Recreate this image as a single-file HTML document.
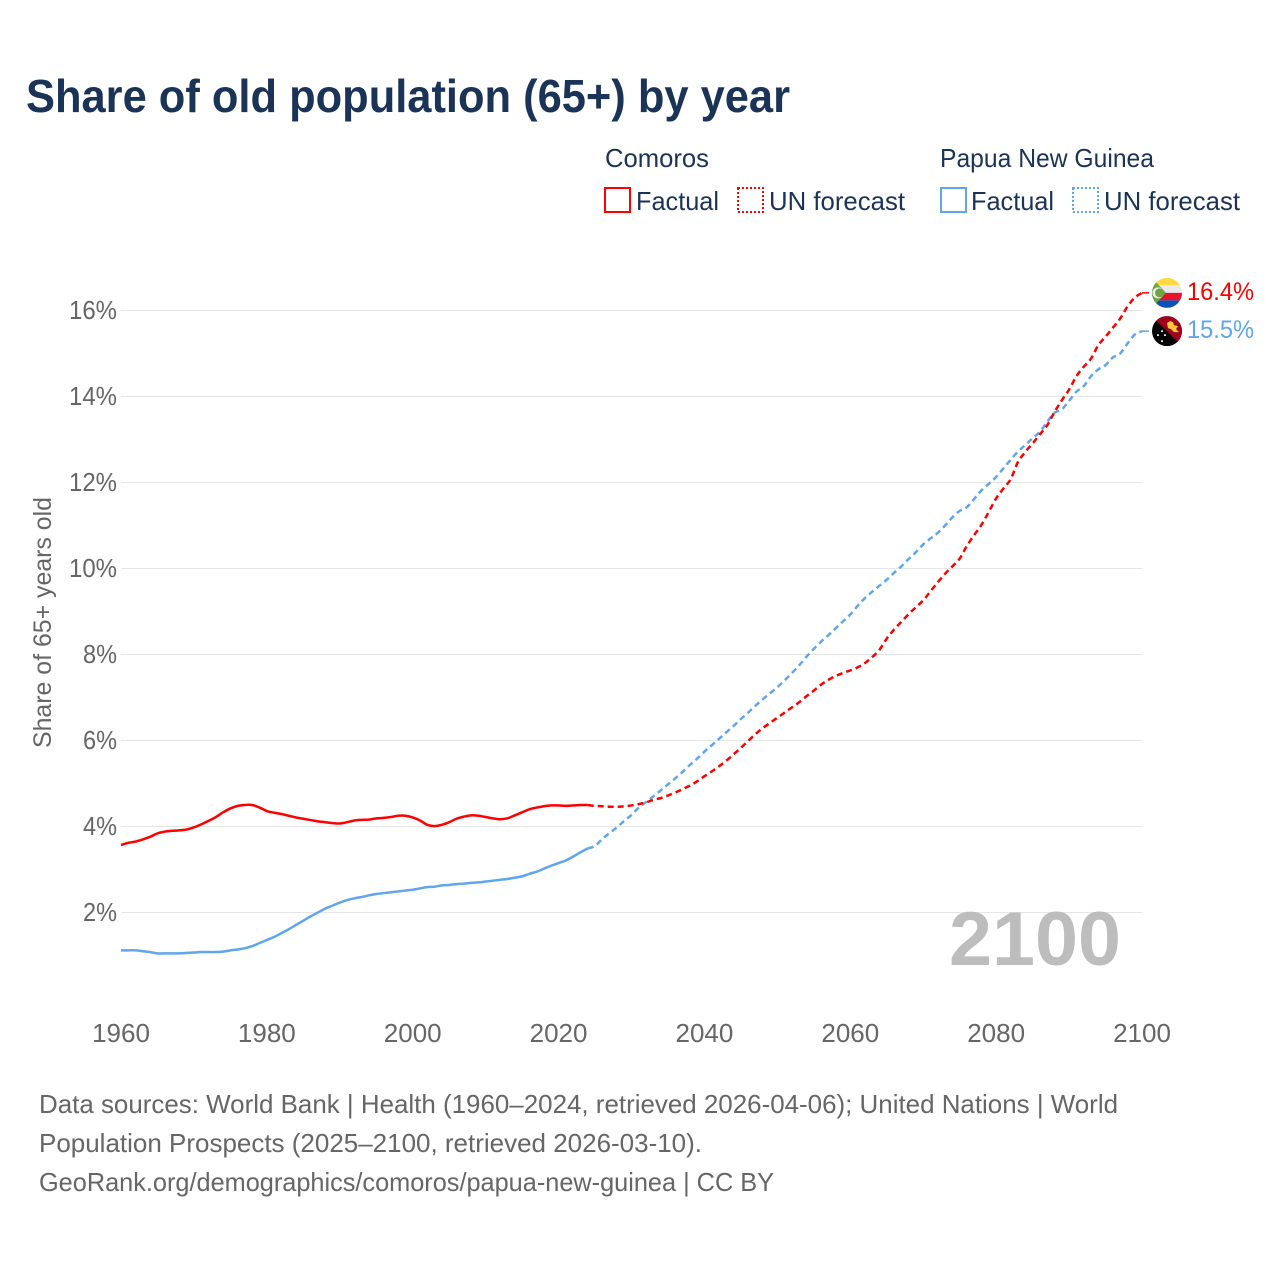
<!DOCTYPE html>
<html lang="en">
<head>
<meta charset="utf-8">
<title>Share of old population (65+) by year</title>
<style>
html,body{margin:0;padding:0;background:#fff;}
svg{display:block;font-family:"Liberation Sans",sans-serif;}
</style>
</head>
<body>
<svg id="chart" width="1280" height="1280" viewBox="0 0 1280 1280" xmlns="http://www.w3.org/2000/svg">
  <rect width="1280" height="1280" fill="#ffffff"/>
  <text x="26" y="112" font-size="46" font-weight="700" fill="#1a3357" textLength="764" lengthAdjust="spacingAndGlyphs">Share of old population (65+) by year</text>

  <g font-size="26" fill="#1a3357">
    <text x="605" y="167" textLength="104" lengthAdjust="spacingAndGlyphs">Comoros</text>
    <rect x="605" y="188" width="25" height="24" fill="none" stroke="#ff0000" stroke-width="2"/>
    <text x="636" y="210" textLength="83" lengthAdjust="spacingAndGlyphs">Factual</text>
    <rect x="738" y="188" width="25" height="24" fill="none" stroke="#ff0000" stroke-width="2" stroke-dasharray="2 2"/>
    <text x="769" y="210" textLength="136" lengthAdjust="spacingAndGlyphs">UN forecast</text>

    <text x="940" y="167" textLength="214" lengthAdjust="spacingAndGlyphs">Papua New Guinea</text>
    <rect x="941" y="188" width="25" height="24" fill="none" stroke="#5fa6ec" stroke-width="2"/>
    <text x="971" y="210" textLength="83" lengthAdjust="spacingAndGlyphs">Factual</text>
    <rect x="1073" y="188" width="25" height="24" fill="none" stroke="#5fa6ec" stroke-width="2" stroke-dasharray="2 2"/>
    <text x="1104" y="210" textLength="136" lengthAdjust="spacingAndGlyphs">UN forecast</text>
  </g>

  <g id="grid"></g>
  <g id="yticks" font-size="26" fill="#666666" text-anchor="end"></g>
  <g id="xticks" font-size="26" fill="#666666" text-anchor="middle"></g>

  <text transform="translate(51 748) rotate(-90)" font-size="25" fill="#666666" textLength="251" lengthAdjust="spacingAndGlyphs">Share of 65+ years old</text>

  <text x="1121" y="965" text-anchor="end" font-size="76" font-weight="700" fill="#bdbdbd" textLength="172" lengthAdjust="spacingAndGlyphs">2100</text>

  <g id="series" fill="none" stroke-width="2.5" stroke-linejoin="round"></g>

  <defs>
    <clipPath id="flagClip"><circle cx="0" cy="0" r="15"/></clipPath>
  </defs>

  <g id="end-comoros">
    <line x1="-25" x2="-18" y1="0" y2="0" stroke="#ff0000" stroke-width="1.5"/>
    <g clip-path="url(#flagClip)">
      <rect x="-15" y="-15" width="30" height="7.5" fill="#ffd944"/>
      <rect x="-15" y="-7.5" width="30" height="7.5" fill="#e9e9e9"/>
      <rect x="-15" y="0" width="30" height="7.5" fill="#e8112d"/>
      <rect x="-15" y="7.5" width="30" height="7.5" fill="#0a50b8"/>
      <polygon points="-15,-15 -1,0 -15,15" fill="#6da544"/>
      <circle cx="-9" cy="0" r="5.5" fill="#eeeeee"/>
      <circle cx="-7.5" cy="0" r="4.5" fill="#6da544"/>
    </g>
    <text id="label-comoros" x="20" y="7" font-size="25" fill="#ff0000" textLength="67" lengthAdjust="spacingAndGlyphs"></text>
  </g>

  <g id="end-png">
    <line x1="-25" x2="-18" y1="0" y2="0" stroke="#5fa6ec" stroke-width="1.5"/>
    <g clip-path="url(#flagClip)">
      <rect x="-15" y="-15" width="30" height="30" fill="#000000"/>
      <polygon points="-15,-15 15,-15 15,15" fill="#a2001d"/>
      <polygon points="0,-8 3,-10 6,-9 7,-6 11,-5 9,-2 12,1 7,1 4,-2 1,-3" fill="#ffc93c"/>
      <circle cx="-5" cy="0" r="1" fill="#fff"/>
      <circle cx="-9" cy="4" r="1" fill="#fff"/>
      <circle cx="-2" cy="4" r="1" fill="#fff"/>
      <circle cx="-5" cy="10" r="1" fill="#fff"/>
    </g>
    <text id="label-png" x="20" y="7" font-size="25" fill="#5fa6ec" textLength="67" lengthAdjust="spacingAndGlyphs"></text>
  </g>

  <g font-size="26" fill="#666666">
    <text x="39" y="1113" textLength="1079" lengthAdjust="spacingAndGlyphs">Data sources: World Bank | Health (1960–2024, retrieved 2026-04-06); United Nations | World</text>
    <text x="39" y="1152" textLength="663" lengthAdjust="spacingAndGlyphs">Population Prospects (2025–2100, retrieved 2026-03-10).</text>
    <text x="39" y="1191" textLength="735" lengthAdjust="spacingAndGlyphs">GeoRank.org/demographics/comoros/papua-new-guinea | CC BY</text>
  </g>
</svg>

<script>
const xTickYears = [1960, 1980, 2000, 2020, 2040, 2060, 2080, 2100];
const yTickValues = [2, 4, 6, 8, 10, 12, 14, 16];
const yTickLabels = ['2%', '4%', '6%', '8%', '10%', '12%', '14%', '16%'];
const factualStartYear = 1960;
const forecastStartYear = 2024;
const comorosEndLabel = '16.4%';
const pngEndLabel = '15.5%';

// 1960–2024
const comorosFactual = [
  3.57,3.62,3.65,3.70,3.76,3.84,3.88,3.90,3.91,3.93,
  3.98,4.05,4.13,4.22,4.33,4.42,4.48,4.50,4.50,4.44,
  4.36,4.32,4.29,4.25,4.21,4.18,4.15,4.12,4.10,4.08,
  4.07,4.10,4.14,4.155,4.16,4.19,4.20,4.22,4.25,4.25,
  4.21,4.14,4.04,4.01,4.04,4.10,4.18,4.23,4.26,4.25,
  4.22,4.19,4.17,4.19,4.26,4.33,4.40,4.44,4.47,4.49,
  4.49,4.48,4.49,4.50,4.50
];
const pngFactual = [
  1.12,1.12,1.12,1.10,1.08,1.05,1.05,1.05,1.05,1.06,
  1.07,1.08,1.08,1.08,1.09,1.12,1.14,1.17,1.22,1.29,
  1.36,1.43,1.52,1.61,1.71,1.81,1.91,2.00,2.09,2.16,
  2.23,2.29,2.33,2.36,2.40,2.43,2.45,2.47,2.49,2.51,
  2.53,2.56,2.59,2.60,2.63,2.64,2.66,2.67,2.69,2.70,
  2.72,2.74,2.76,2.78,2.81,2.84,2.90,2.95,3.02,3.09,
  3.15,3.21,3.30,3.40,3.49
];

// 2024–2100
const comorosForecast = [
  4.50,4.48,4.47,4.46,4.46,4.47,
  4.49,4.52,4.56,4.62,4.66,4.72,4.79,4.87,4.95,5.05,
  5.17,5.28,5.40,5.53,5.68,5.83,5.99,6.15,6.29,6.41,
  6.53,6.65,6.77,6.89,7.03,7.16,7.30,7.41,7.50,7.57,
  7.63,7.70,7.80,7.94,8.11,8.37,8.58,8.76,8.94,9.10,
  9.26,9.47,9.68,9.88,10.05,10.23,10.53,10.78,11.02,11.32,
  11.63,11.86,12.08,12.48,12.71,12.91,13.12,13.33,13.64,13.91,
  14.16,14.47,14.69,14.88,15.19,15.39,15.60,15.81,16.09,16.30,
  16.41
];
const pngForecast = [
  3.49,3.55,3.71,3.85,3.98,4.13,
  4.27,4.44,4.57,4.70,4.84,4.98,5.12,5.27,5.43,5.58,
  5.74,5.89,6.04,6.19,6.34,6.50,6.65,6.81,6.96,7.10,
  7.24,7.40,7.57,7.75,7.95,8.13,8.30,8.45,8.61,8.77,
  8.93,9.13,9.31,9.46,9.60,9.74,9.90,10.05,10.22,10.38,
  10.56,10.70,10.83,11.00,11.19,11.34,11.43,11.62,11.82,11.97,
  12.13,12.33,12.53,12.72,12.87,13.03,13.18,13.41,13.62,13.70,
  13.90,14.11,14.24,14.47,14.63,14.73,14.91,15.00,15.23,15.44,
  15.52
];

const NS = 'http://www.w3.org/2000/svg';
function xScale(year) { return 121 + (year - 1960) * (1142 - 121) / 140; }
function yScale(value) { return 998.5 - value * 43; }

const gridGroup = document.getElementById('grid');
const yTickGroup = document.getElementById('yticks');
yTickValues.forEach(function (value, i) {
  const line = document.createElementNS(NS, 'line');
  
  
  line.setAttribute('x1', xScale(1960));
  line.setAttribute('x2', xScale(2100));
  line.setAttribute('y1', yScale(value));
  line.setAttribute('y2', yScale(value));
  line.setAttribute('stroke', '#e6e6e6');
  line.setAttribute('stroke-width', '1');
  gridGroup.appendChild(line);

  const label = document.createElementNS(NS, 'text');
  
  
  label.setAttribute('x', 117);
  label.setAttribute('y', yScale(value) + 8.5);
  label.setAttribute('textLength', yTickLabels[i].length === 3 ? 48 : 34);
  label.setAttribute('lengthAdjust', 'spacingAndGlyphs');
  label.textContent = yTickLabels[i];
  yTickGroup.appendChild(label);
});

const xTickGroup = document.getElementById('xticks');
xTickYears.forEach(function (year) {
  const label = document.createElementNS(NS, 'text');
  
  
  label.setAttribute('x', xScale(year));
  label.setAttribute('y', 1042);
  label.textContent = String(year);
  xTickGroup.appendChild(label);
});

// Smooth line through yearly points (Catmull-Rom to cubic Bezier).
function linePath(startYear, values) {
  const pts = values.map(function (value, i) {
    return [xScale(startYear + i), yScale(value)];
  });
  let d = 'M' + pts[0][0].toFixed(2) + ' ' + pts[0][1].toFixed(2);
  for (let i = 0; i < pts.length - 1; i++) {
    const p0 = pts[Math.max(i - 1, 0)];
    const p1 = pts[i];
    const p2 = pts[i + 1];
    const p3 = pts[Math.min(i + 2, pts.length - 1)];
    const c1x = p1[0] + (p2[0] - p0[0]) / 6;
    const c1y = p1[1] + (p2[1] - p0[1]) / 6;
    const c2x = p2[0] - (p3[0] - p1[0]) / 6;
    const c2y = p2[1] - (p3[1] - p1[1]) / 6;
    d += ' C' + c1x.toFixed(2) + ' ' + c1y.toFixed(2) + ' ' + c2x.toFixed(2) + ' ' + c2y.toFixed(2) + ' ' + p2[0].toFixed(2) + ' ' + p2[1].toFixed(2);
  }
  return d;
}

const seriesGroup = document.getElementById('series');

const comorosFactualLine = document.createElementNS(NS, 'path');


comorosFactualLine.setAttribute('d', linePath(factualStartYear, comorosFactual));
comorosFactualLine.setAttribute('stroke', '#ff0000');
seriesGroup.appendChild(comorosFactualLine);

const pngFactualLine = document.createElementNS(NS, 'path');


pngFactualLine.setAttribute('d', linePath(factualStartYear, pngFactual));
pngFactualLine.setAttribute('stroke', '#5fa6ec');
seriesGroup.appendChild(pngFactualLine);

const pngForecastLine = document.createElementNS(NS, 'path');


pngForecastLine.setAttribute('d', linePath(forecastStartYear, pngForecast));
pngForecastLine.setAttribute('stroke', '#5fa6ec');
pngForecastLine.setAttribute('stroke-dasharray', '6 4');
seriesGroup.appendChild(pngForecastLine);

const comorosForecastLine = document.createElementNS(NS, 'path');


comorosForecastLine.setAttribute('d', linePath(forecastStartYear, comorosForecast));
comorosForecastLine.setAttribute('stroke', '#ff0000');
comorosForecastLine.setAttribute('stroke-dasharray', '6 4');
seriesGroup.appendChild(comorosForecastLine);

const endX = 1167;
document.getElementById('end-comoros').setAttribute('transform',
  'translate(' + endX + ' ' + yScale(comorosForecast[comorosForecast.length - 1]) + ')');
document.getElementById('end-png').setAttribute('transform',
  'translate(' + endX + ' ' + yScale(pngForecast[pngForecast.length - 1]) + ')');
document.getElementById('label-comoros').textContent = comorosEndLabel;
document.getElementById('label-png').textContent = pngEndLabel;
</script>
</body>
</html>
